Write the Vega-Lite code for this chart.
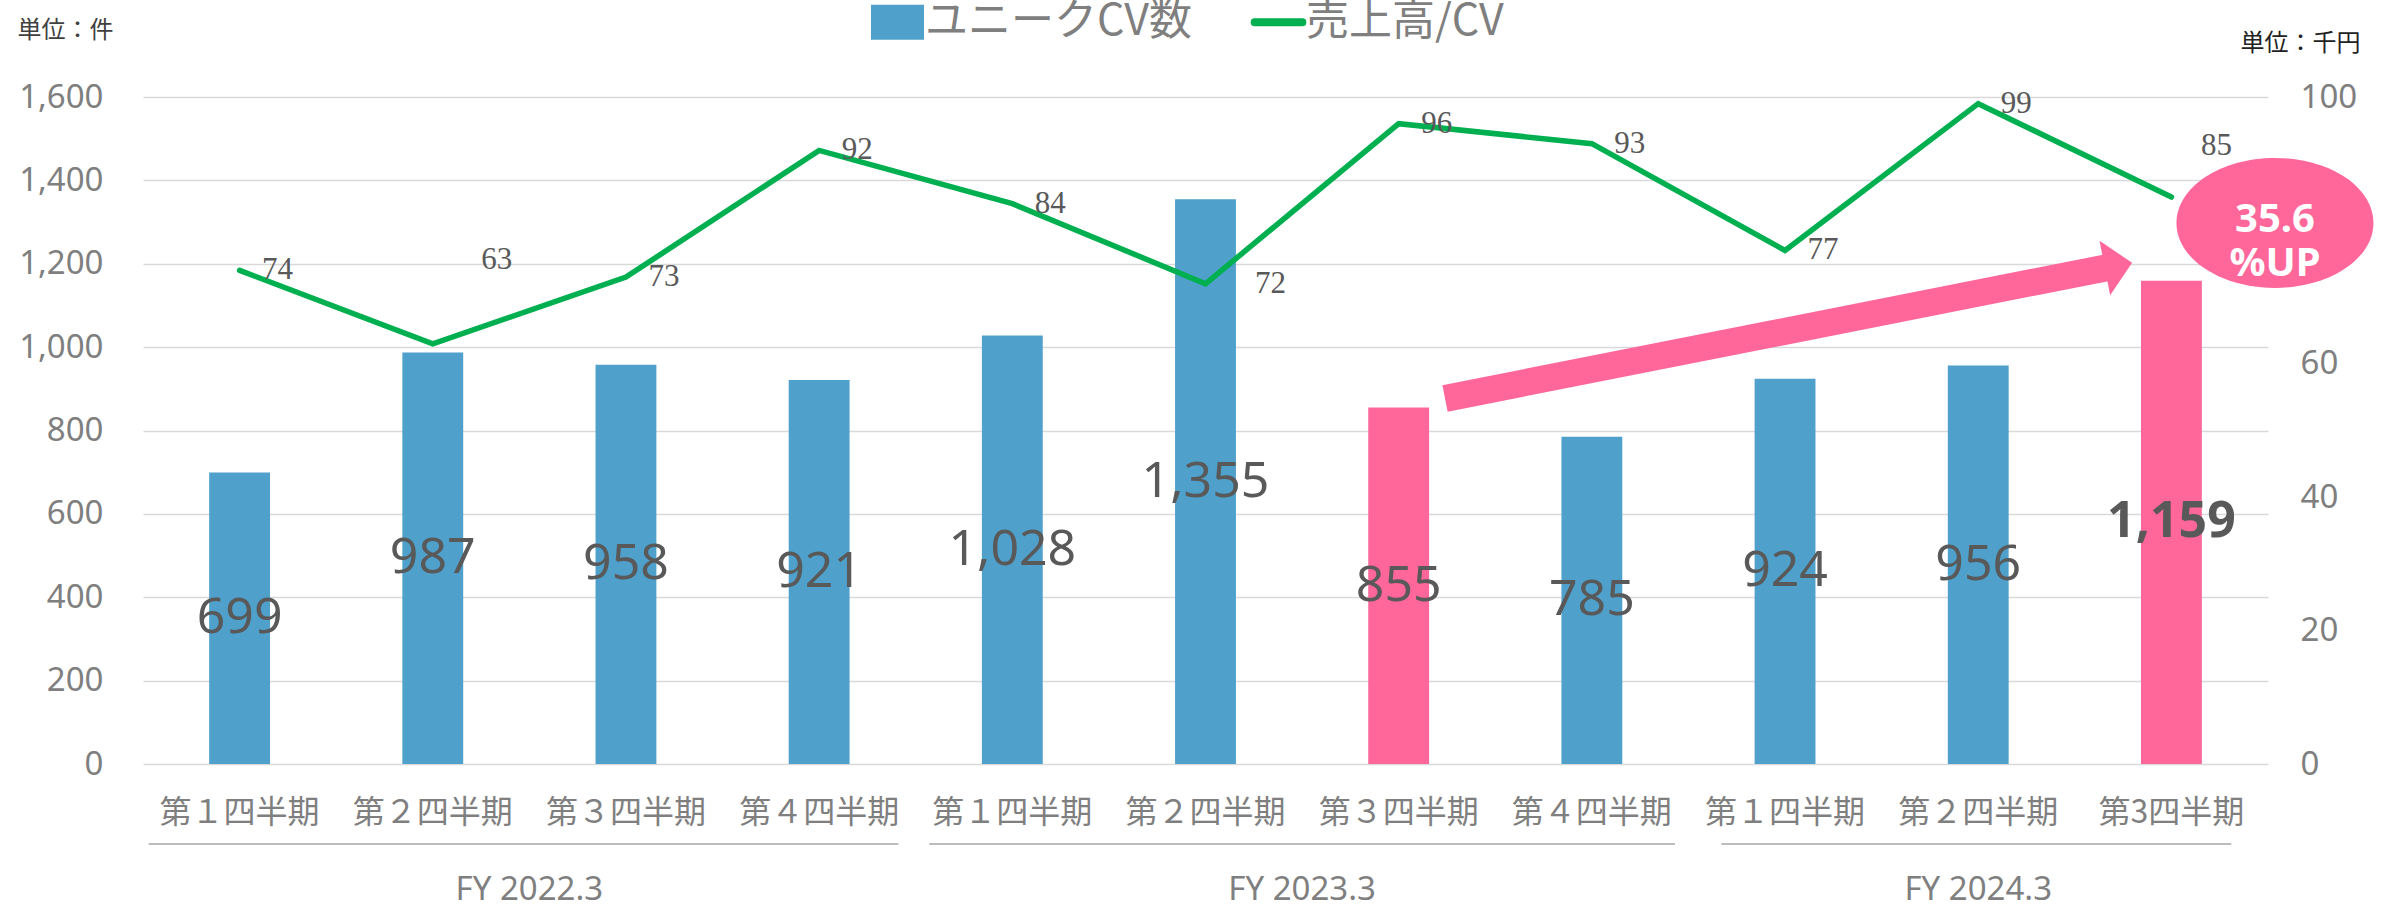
{
  "$schema": "https://vega.github.io/schema/vega-lite/v6.json",
  "width": 2125,
  "height": 667,
  "autosize": "none",
  "padding": {"left": 143, "top": 97, "right": 121, "bottom": 140},
  "background": "white",
  "config": {
    "view": {"stroke": null},
    "font": "Noto Sans CJK JP",
    "axis": {"domain": false, "ticks": false}
  },
  "datasets": {
    "main": [
      {"key": "FY 2022.3|第１四半期", "cv": 699, "sales": 74, "hl": false},
      {"key": "FY 2022.3|第２四半期", "cv": 987, "sales": 63, "hl": false},
      {"key": "FY 2022.3|第３四半期", "cv": 958, "sales": 73, "hl": false},
      {"key": "FY 2022.3|第４四半期", "cv": 921, "sales": 92, "hl": false},
      {"key": "FY 2023.3|第１四半期", "cv": 1028, "sales": 84, "hl": false},
      {"key": "FY 2023.3|第２四半期", "cv": 1355, "sales": 72, "hl": false},
      {"key": "FY 2023.3|第３四半期", "cv": 855, "sales": 96, "hl": true},
      {"key": "FY 2023.3|第４四半期", "cv": 785, "sales": 93, "hl": false},
      {"key": "FY 2024.3|第１四半期", "cv": 924, "sales": 77, "hl": false},
      {"key": "FY 2024.3|第２四半期", "cv": 956, "sales": 99, "hl": false},
      {"key": "FY 2024.3|第3四半期", "cv": 1159, "sales": 85, "hl": true}
    ],
    "groups": [
      {"fy": "FY 2022.3", "start": 0.03, "end": 3.91, "mid": 2},
      {"fy": "FY 2023.3", "start": 4.07, "end": 7.93, "mid": 6},
      {"fy": "FY 2024.3", "start": 8.17, "end": 10.81, "mid": 9.5}
    ],
    "note": [{"note": "35.6\n%UP"}]
  },
  "data": {"name": "main"},
  "resolve": {"scale": {"x": "independent", "y": "independent"}},
  "layer": [
    {
      "mark": {"type": "bar"},
      "encoding": {
        "x": {
          "field": "key", "type": "nominal", "sort": null,
          "scale": {"type": "band", "paddingInner": 0.685, "paddingOuter": 0.3425},
          "axis": {
            "title": null, "labelExpr": "split(datum.value, '|')[1]",
            "labelFont": "Noto Sans CJK JP", "labelFontSize": 32, "labelColor": "#7F7F7F",
            "labelPadding": 33, "labelAngle": 0, "grid": false, "labelLimit": 400
          }
        },
        "y": {
          "field": "cv", "type": "quantitative",
          "scale": {"domain": [0, 1600], "nice": false},
          "axis": {
            "values": [0, 200, 400, 600, 800, 1000, 1200, 1400, 1600], "format": ",.0f",
            "labelFont": "Noto Sans", "labelFontSize": 33, "labelColor": "#7F7F7F", "labelPadding": 40,
            "gridColor": "#D9D9D9", "gridWidth": 1.5,
            "title": "単位：件", "titleAngle": 0, "titleAlign": "left", "titleBaseline": "middle",
            "titleX": -126, "titleY": -67, "titleFontSize": 24, "titleFontWeight": "normal",
            "titleColor": "#404040", "titleFont": "Noto Sans CJK JP"
          }
        },
        "color": {
          "condition": {"test": "datum.hl", "value": "#FF6699"},
          "datum": "ユニークCV数", "type": "nominal",
          "scale": {"domain": ["ユニークCV数", "売上高/CV"], "range": ["#4FA0CB", "#00B050"]},
          "legend": {
            "orient": "none", "legendX": 733, "legendY": -96.5, "direction": "horizontal",
            "title": null, "padding": 0, "symbolSize": 2809,
            "labelFont": "Noto Sans CJK JP", "labelFontSize": 43, "labelColor": "#7F7F7F",
            "labelOffset": 6, "columnPadding": 46, "labelLimit": 500,
            "encode": {
              "symbols": {
                "update": {
                  "shape": {"signal": "datum.value === '売上高/CV' ? 'M-0.9,0L0.9,0' : 'M-1,-0.66L1,-0.66L1,0.66L-1,0.66Z'"},
                  "fill": {"signal": "datum.value === '売上高/CV' ? 'transparent' : '#4FA0CB'"},
                  "stroke": {"signal": "datum.value === '売上高/CV' ? '#00B050' : 'transparent'"},
                  "strokeWidth": {"signal": "datum.value === '売上高/CV' ? 8 : 0"},
                  "strokeCap": {"value": "round"},
                  "opacity": {"value": 1}
                }
              }
            }
          }
        }
      }
    },
    {
      "transform": [{"filter": {"not": {"field": "key", "equal": "FY 2024.3|第3四半期"}}}],
      "mark": {"type": "text", "font": "Noto Sans", "fontSize": 50, "color": "#595959", "baseline": "middle", "align": "center"},
      "encoding": {
        "x": {"field": "key", "type": "nominal", "sort": null, "scale": {"type": "point", "padding": 0.5, "domain": ["FY 2022.3|第１四半期", "FY 2022.3|第２四半期", "FY 2022.3|第３四半期", "FY 2022.3|第４四半期", "FY 2023.3|第１四半期", "FY 2023.3|第２四半期", "FY 2023.3|第３四半期", "FY 2023.3|第４四半期", "FY 2024.3|第１四半期", "FY 2024.3|第２四半期", "FY 2024.3|第3四半期"]}, "axis": null},
        "y": {"field": "cv", "type": "quantitative", "scale": {"domain": [0, 3200], "nice": false}, "axis": null},
        "text": {"field": "cv", "type": "quantitative", "format": ","}
      }
    },
    {
      "transform": [{"filter": {"field": "key", "equal": "FY 2024.3|第3四半期"}}],
      "mark": {"type": "text", "font": "Noto Sans", "fontSize": 50, "fontWeight": "bold", "color": "#595959", "baseline": "middle", "align": "center"},
      "encoding": {
        "x": {"field": "key", "type": "nominal", "sort": null, "scale": {"type": "point", "padding": 0.5, "domain": ["FY 2022.3|第１四半期", "FY 2022.3|第２四半期", "FY 2022.3|第３四半期", "FY 2022.3|第４四半期", "FY 2023.3|第１四半期", "FY 2023.3|第２四半期", "FY 2023.3|第３四半期", "FY 2023.3|第４四半期", "FY 2024.3|第１四半期", "FY 2024.3|第２四半期", "FY 2024.3|第3四半期"]}, "axis": null},
        "y": {"field": "cv", "type": "quantitative", "scale": {"domain": [0, 3200], "nice": false}, "axis": null},
        "text": {"field": "cv", "type": "quantitative", "format": ","}
      }
    },
    {
      "mark": {"type": "line", "strokeWidth": 5.5, "strokeCap": "round", "strokeJoin": "miter"},
      "encoding": {
        "x": {"field": "key", "type": "nominal", "sort": null, "scale": {"type": "point", "padding": 0.5}, "axis": null},
        "y": {
          "field": "sales", "type": "quantitative",
          "scale": {"domain": [0, 100], "nice": false},
          "axis": {
            "orient": "right", "values": [0, 20, 40, 60, 80, 100], "format": ".0f",
            "labelFont": "Noto Sans", "labelFontSize": 33, "labelColor": "#7F7F7F", "labelPadding": 32, "labelAlign": "left",
            "grid": false,
            "title": "単位：千円", "titleAngle": 0, "titleAlign": "left", "titleBaseline": "middle",
            "titleX": -28, "titleY": -54, "titleFontSize": 24, "titleFontWeight": "normal",
            "titleColor": "#222222", "titleFont": "Noto Sans CJK JP"
          }
        },
        "color": {"datum": "売上高/CV", "type": "nominal"}
      }
    },
    {
      "transform": [{"filter": {"not": {"field": "key", "oneOf": ["FY 2022.3|第２四半期", "FY 2023.3|第２四半期", "FY 2024.3|第3四半期"]}}}],
      "mark": {"type": "text", "font": "Liberation Serif", "fontSize": 31, "color": "#595959", "dx": 38, "align": "center", "baseline": "middle"},
      "encoding": {
        "x": {"field": "key", "type": "nominal", "sort": null, "scale": {"type": "point", "padding": 0.5, "domain": ["FY 2022.3|第１四半期", "FY 2022.3|第２四半期", "FY 2022.3|第３四半期", "FY 2022.3|第４四半期", "FY 2023.3|第１四半期", "FY 2023.3|第２四半期", "FY 2023.3|第３四半期", "FY 2023.3|第４四半期", "FY 2024.3|第１四半期", "FY 2024.3|第２四半期", "FY 2024.3|第3四半期"]}, "axis": null},
        "y": {"field": "sales", "type": "quantitative", "scale": {"domain": [0, 100], "nice": false}, "axis": null},
        "text": {"field": "sales", "type": "quantitative"}
      }
    },
    {
      "transform": [{"filter": {"field": "key", "equal": "FY 2022.3|第２四半期"}}],
      "mark": {"type": "text", "font": "Liberation Serif", "fontSize": 31, "color": "#595959", "dx": 64, "dy": -84, "align": "center", "baseline": "middle"},
      "encoding": {
        "x": {"field": "key", "type": "nominal", "sort": null, "scale": {"type": "point", "padding": 0.5, "domain": ["FY 2022.3|第１四半期", "FY 2022.3|第２四半期", "FY 2022.3|第３四半期", "FY 2022.3|第４四半期", "FY 2023.3|第１四半期", "FY 2023.3|第２四半期", "FY 2023.3|第３四半期", "FY 2023.3|第４四半期", "FY 2024.3|第１四半期", "FY 2024.3|第２四半期", "FY 2024.3|第3四半期"]}, "axis": null},
        "y": {"field": "sales", "type": "quantitative", "scale": {"domain": [0, 100], "nice": false}, "axis": null},
        "text": {"field": "sales", "type": "quantitative"}
      }
    },
    {
      "transform": [{"filter": {"field": "key", "equal": "FY 2023.3|第２四半期"}}],
      "mark": {"type": "text", "font": "Liberation Serif", "fontSize": 31, "color": "#595959", "dx": 65, "dy": 0, "align": "center", "baseline": "middle"},
      "encoding": {
        "x": {"field": "key", "type": "nominal", "sort": null, "scale": {"type": "point", "padding": 0.5, "domain": ["FY 2022.3|第１四半期", "FY 2022.3|第２四半期", "FY 2022.3|第３四半期", "FY 2022.3|第４四半期", "FY 2023.3|第１四半期", "FY 2023.3|第２四半期", "FY 2023.3|第３四半期", "FY 2023.3|第４四半期", "FY 2024.3|第１四半期", "FY 2024.3|第２四半期", "FY 2024.3|第3四半期"]}, "axis": null},
        "y": {"field": "sales", "type": "quantitative", "scale": {"domain": [0, 100], "nice": false}, "axis": null},
        "text": {"field": "sales", "type": "quantitative"}
      }
    },
    {
      "transform": [{"filter": {"field": "key", "equal": "FY 2024.3|第3四半期"}}],
      "mark": {"type": "text", "font": "Liberation Serif", "fontSize": 31, "color": "#595959", "dx": 45, "dy": -51, "align": "center", "baseline": "middle"},
      "encoding": {
        "x": {"field": "key", "type": "nominal", "sort": null, "scale": {"type": "point", "padding": 0.5, "domain": ["FY 2022.3|第１四半期", "FY 2022.3|第２四半期", "FY 2022.3|第３四半期", "FY 2022.3|第４四半期", "FY 2023.3|第１四半期", "FY 2023.3|第２四半期", "FY 2023.3|第３四半期", "FY 2023.3|第４四半期", "FY 2024.3|第１四半期", "FY 2024.3|第２四半期", "FY 2024.3|第3四半期"]}, "axis": null},
        "y": {"field": "sales", "type": "quantitative", "scale": {"domain": [0, 100], "nice": false}, "axis": null},
        "text": {"field": "sales", "type": "quantitative"}
      }
    },
    {
      "data": {"name": "groups"},
      "mark": {"type": "rule", "color": "#A6A6A6", "strokeWidth": 1.5},
      "encoding": {
        "x": {"field": "start", "type": "quantitative", "scale": {"domain": [0, 11], "nice": false, "zero": false}, "axis": null},
        "x2": {"field": "end"},
        "y": {"datum": -192, "type": "quantitative", "scale": {"domain": [0, 1600], "nice": false}, "axis": null}
      }
    },
    {
      "data": {"name": "groups"},
      "mark": {"type": "text", "font": "Noto Sans", "fontSize": 33, "color": "#7F7F7F", "baseline": "middle", "align": "center"},
      "encoding": {
        "x": {"field": "mid", "type": "quantitative", "scale": {"domain": [0, 11], "nice": false, "zero": false}, "axis": null},
        "y": {"datum": -303, "type": "quantitative", "scale": {"domain": [0, 1600], "nice": false}, "axis": null},
        "text": {"field": "fy", "type": "nominal"}
      }
    },
    {
      "data": {"name": "note"},
      "mark": {"type": "rule", "color": "#FF6699", "strokeWidth": 27, "strokeCap": "butt"},
      "encoding": {
        "x": {"datum": 6.74, "type": "quantitative", "scale": {"domain": [0, 11], "nice": false, "zero": false}, "axis": null},
        "x2": {"datum": 10.16},
        "y": {"datum": 877, "type": "quantitative", "scale": {"domain": [0, 1600], "nice": false}, "axis": null},
        "y2": {"datum": 1190}
      }
    },
    {
      "data": {"name": "note"},
      "mark": {"type": "point", "shape": "M-0.5,-1L0.5,0L-0.5,1Z", "size": 3080, "filled": true, "color": "#FF6699", "opacity": 1, "angle": -11, "strokeWidth": 0},
      "encoding": {
        "x": {"datum": 10.226, "type": "quantitative", "scale": {"domain": [0, 11], "nice": false, "zero": false}, "axis": null},
        "y": {"datum": 1196, "type": "quantitative", "scale": {"domain": [0, 1600], "nice": false}, "axis": null}
      }
    },
    {
      "data": {"name": "note"},
      "mark": {"type": "point", "shape": "M-1,0C-1,-0.3645,-0.5523,-0.66,0,-0.66C0.5523,-0.66,1,-0.3645,1,0C1,0.3645,0.5523,0.66,0,0.66C-0.5523,0.66,-1,0.3645,-1,0Z", "size": 38809, "filled": true, "color": "#FF6699", "opacity": 1, "strokeWidth": 0},
      "encoding": {
        "x": {"datum": 11.036, "type": "quantitative", "scale": {"domain": [0, 11], "nice": false, "zero": false}, "axis": null},
        "y": {"datum": 1298, "type": "quantitative", "scale": {"domain": [0, 1600], "nice": false}, "axis": null}
      }
    },
    {
      "data": {"name": "note"},
      "mark": {"type": "text", "font": "Noto Sans", "fontSize": 40, "fontWeight": "bold", "color": "#FFFFFF", "lineBreak": "\n", "lineHeight": 44, "baseline": "middle", "align": "center"},
      "encoding": {
        "x": {"datum": 11.036, "type": "quantitative", "scale": {"domain": [0, 11], "nice": false, "zero": false}, "axis": null},
        "y": {"datum": 1305, "type": "quantitative", "scale": {"domain": [0, 1600], "nice": false}, "axis": null},
        "text": {"field": "note", "type": "nominal"}
      }
    }
  ]
}
